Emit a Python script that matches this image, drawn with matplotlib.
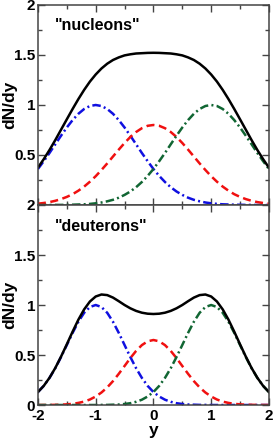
import numpy as np
import matplotlib
matplotlib.use('Agg')
import matplotlib.pyplot as plt
from matplotlib.ticker import MultipleLocator, FixedLocator, FixedFormatter

plt.rcParams['font.family'] = ['Liberation Sans', 'DejaVu Sans']
plt.rcParams['font.weight'] = 'bold'
plt.rcParams['axes.unicode_minus'] = False

y = np.round(np.linspace(-2, 2, 41), 2)

# "nucleons" panel
nuc_left = [0.360, 0.438, 0.520, 0.607, 0.693, 0.775, 0.849, 0.912, 0.960, 0.990, 1.000,
            0.990, 0.960, 0.912, 0.849, 0.775, 0.693, 0.607, 0.520, 0.438, 0.360,
            0.291, 0.230, 0.178, 0.135, 0.101, 0.073, 0.052, 0.037, 0.025, 0.017,
            0.011, 0.007, 0.005, 0.003, 0.002, 0.001, 0.001, 0.0, 0.0, 0.0]
nuc_right = nuc_left[::-1]
nuc_mid = [0.0135, 0.020, 0.029, 0.042, 0.059, 0.081, 0.108, 0.143, 0.184, 0.233, 0.288,
           0.350, 0.416, 0.485, 0.554, 0.620, 0.680, 0.730, 0.768, 0.792, 0.800,
           0.792, 0.768, 0.730, 0.680, 0.620, 0.554, 0.485, 0.416, 0.350, 0.288,
           0.233, 0.184, 0.143, 0.108, 0.081, 0.059, 0.042, 0.029, 0.020, 0.0135]
nuc_total_half = [0.374, 0.458, 0.550, 0.649, 0.753, 0.857, 0.960, 1.059, 1.151, 1.234, 1.305,
                  1.365, 1.413, 1.450, 1.476, 1.496, 1.507, 1.515, 1.518, 1.521, 1.522]
nuc_total = nuc_total_half + nuc_total_half[-2::-1]

# "deuterons" panel
deu_left = [0.130, 0.191, 0.271, 0.368, 0.480, 0.600, 0.721, 0.832, 0.922, 0.980, 1.000,
            0.980, 0.922, 0.832, 0.721, 0.600, 0.480, 0.368, 0.271, 0.191, 0.130,
            0.085, 0.053, 0.032, 0.018, 0.010, 0.005, 0.003, 0.001, 0.001, 0.0,
            0.0, 0.0, 0.0, 0.0, 0.0, 0.0, 0.0, 0.0, 0.0, 0.0]
deu_right = deu_left[::-1]
deu_mid = [0.0002, 0.0004, 0.0008, 0.0018, 0.0035, 0.0066, 0.012, 0.021, 0.034, 0.055, 0.085,
           0.125, 0.176, 0.239, 0.312, 0.390, 0.469, 0.541, 0.599, 0.637, 0.650,
           0.637, 0.599, 0.541, 0.469, 0.390, 0.312, 0.239, 0.176, 0.125, 0.085,
           0.055, 0.034, 0.021, 0.012, 0.0066, 0.0035, 0.0018, 0.0008, 0.0004, 0.0002]
deu_total_half = [0.130, 0.191, 0.272, 0.370, 0.484, 0.607, 0.733, 0.853, 0.956, 1.035, 1.085,
                  1.105, 1.099, 1.074, 1.038, 1.000, 0.967, 0.941, 0.923, 0.913, 0.910]
deu_total = deu_total_half + deu_total_half[-2::-1]

panels = [('"nucleons"', nuc_total, nuc_left, nuc_mid, nuc_right),
          ('"deuterons"', deu_total, deu_left, deu_mid, deu_right)]

fig = plt.figure(figsize=(2.73, 4.42), dpi=100)
ax1 = fig.add_axes([0.139, 0.5362, 0.846, 0.4525])
ax2 = fig.add_axes([0.139, 0.0837, 0.846, 0.4525])

lw = 1.8
for ax, (name, tot, left, mid, right) in zip([ax1, ax2], panels):
    ax.plot(y, left, color='#1010e0', lw=lw, dashes=(3.4, 1.3, 0.8, 1.3))
    ax.plot(y, mid, color='#f01010', lw=lw, dashes=(3.2, 1.8))
    ax.plot(y, right, color='#116633', lw=lw, dashes=(3.4, 1.3, 0.8, 1.3))
    ax.plot(y, tot, color='black', lw=lw)
    ax.set_xlim(-2, 2)
    ax.set_ylim(0, 2)
    ax.text(0.075, 0.895, name, transform=ax.transAxes, fontsize=11.5,
            fontweight='bold', va='center')
    ax.set_ylabel('dN/dy', fontsize=12.5, fontweight='bold')
    ax.yaxis.set_label_coords(-0.09, 0.5)
    ax.xaxis.set_major_locator(MultipleLocator(1))
    ax.xaxis.set_minor_locator(MultipleLocator(0.5))
    ax.yaxis.set_minor_locator(MultipleLocator(0.25))
    ax.tick_params(which='both', direction='in', top=True, right=True,
                   color='#444444', labelsize=11, pad=2)
    ax.tick_params(which='major', length=5, width=1)
    ax.tick_params(which='minor', length=3, width=1)
    for s in ax.spines.values():
        s.set_color('#444444')
        s.set_linewidth(1.1)

ax1.yaxis.set_major_locator(FixedLocator([0, 0.5, 1, 1.5, 2]))
ax1.yaxis.set_major_formatter(FixedFormatter(['', '0.5', '1', '1.5', '2']))
ax1.tick_params(labelbottom=False)
ax2.yaxis.set_major_locator(FixedLocator([0, 0.5, 1, 1.5, 2]))
ax2.yaxis.set_major_formatter(FixedFormatter(['0', '0.5', '1', '1.5', '2']))
ax2.tick_params(axis='x', pad=3)
ax2.set_xlabel('y', fontsize=12.5, fontweight='bold', labelpad=0)

for ax in (ax1, ax2):
    for lab in ax.get_xticklabels() + ax.get_yticklabels():
        lab.set_fontweight('bold')

fig.savefig('out.png', dpi=100)
